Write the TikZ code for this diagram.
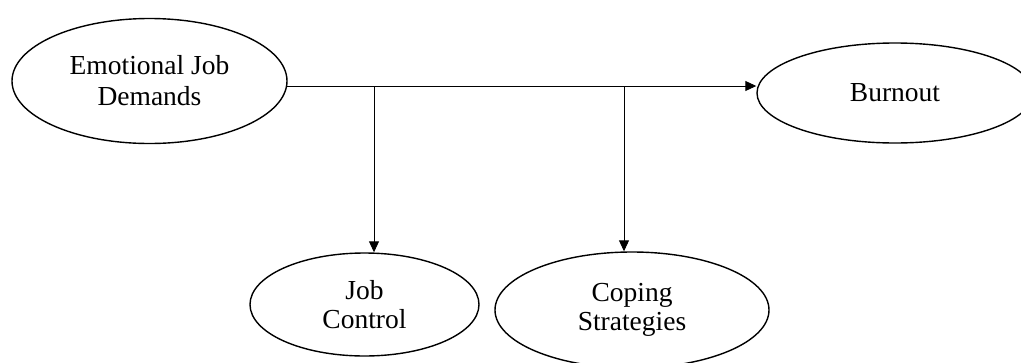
\documentclass[tikz,border=0pt]{standalone}
\usepackage{fontspec}
\setmainfont{Liberation Serif}
\usetikzlibrary{shapes.geometric,arrows.meta}
\begin{document}
\begin{tikzpicture}[x=1pt,y=-1pt,
  oval/.style={ellipse,draw,line width=1.4pt,inner sep=0pt,align=center,
    font=\fontsize{27.5}{29}\selectfont},
  arr/.style={line width=0.9pt,-{Triangle[length=11pt,width=10pt]}}]
\useasboundingbox[fill=white] (0,0) rectangle (1021,362);
\node[oval,minimum width=275pt,minimum height=125pt,font=\fontsize{27.5}{31}\selectfont] (emo) at (149.5,81) {Emotional Job\\Demands};
\node[oval,minimum width=276pt,minimum height=100pt] (bur) at (895,93) {Burnout};
\node[oval,minimum width=229pt,minimum height=103pt] (jc) at (364.5,304.5) {Job\\Control};
\node[oval,minimum width=274pt,minimum height=116pt] (cs) at (632,310) {Coping\\Strategies};
\coordinate (m1) at (287,86);
\coordinate (b1) at (374,86);
\coordinate (b2) at (624,86);
\draw[arr] (m1) -- (m1 -| bur.west);
\draw[arr] (b1) -- (b1 |- jc.north);
\draw[arr] (b2) -- (b2 |- cs.north);
\end{tikzpicture}
\end{document}
